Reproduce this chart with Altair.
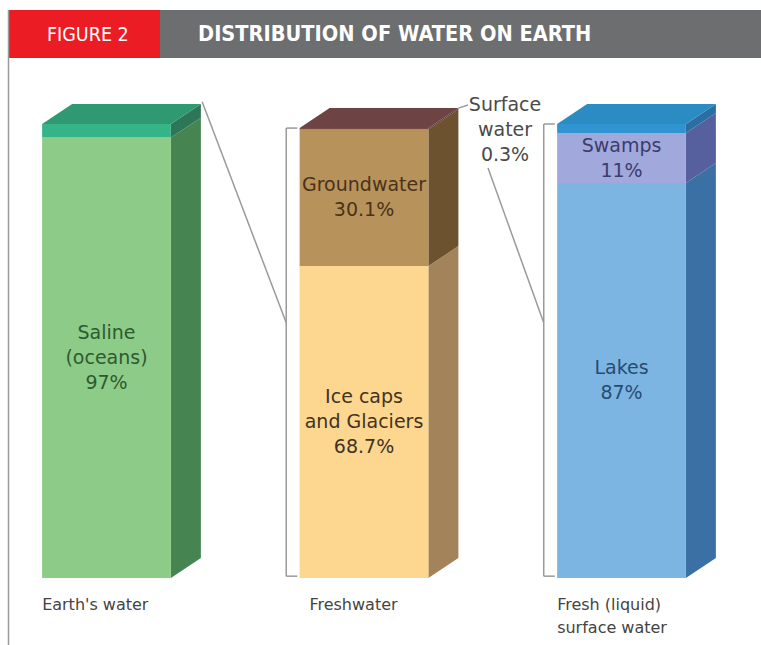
import altair as alt
import pandas as pd

# ---------------- data ----------------
categories = ["Earth's water", "Freshwater", "Fresh (liquid)\nsurface water"]
seg_bar = [0, 0, 1, 1, 1, 2, 2, 2]
seg_labels = ["Saline\n(oceans)\n97%", "", "Ice caps\nand Glaciers\n68.7%", "Groundwater\n30.1%", "",
              "Lakes\n87%", "Swamps\n11%", ""]
seg_values = [97, 3, 68.7, 30.1, 0.3, 87, 11, 2]
front_colors = ["#8dcb88", "#35b487", "#fdd690", "#b8925b", "#7a4a44", "#7db5e2", "#a1a8db", "#2f94cf"]
side_colors = ["#468552", "#2d7758", "#a2835a", "#6d522f", "#5a3a36", "#3a70a4", "#56609f", "#2a6ea3"]
text_colors = ["#2f5a2f", "#2f5a2f", "#3f3322", "#4a321a", "#4a321a", "#284b73", "#3c3c6e", "#284b73"]
top_colors = ["#2f9a72", "#6e4343", "#2b8cc4"]
surface_label = "Surface\nwater\n0.3%"

# ---------------- layout (data units: x = bar slot, y = percent) ----------------
HALF_W = 0.25
DX = 0.1165
DY = 4.4
BR = 0.052        # bracket offset
TICK = 0.043
PX_PER_PCT = 4.54
LINE_H = 25
LINE_PCT = LINE_H / PX_PER_PCT
cat_offsets = [0.0, 0.038, 0.0]


def first_line_y(center, text):
    n = text.count("\n") + 1
    return center + (n - 1) / 2 * LINE_PCT


front_rows, side_rows, text_rows = [], [], []
cum = {0: 0.0, 1: 0.0, 2: 0.0}
for i, (b, v) in enumerate(zip(seg_bar, seg_values)):
    y0 = cum[b]
    y1 = y0 + v
    cum[b] = y1
    front_rows.append(dict(x=b - HALF_W, x2=b + HALF_W, y=y0, y2=y1, c=front_colors[i]))
    side_rows.append(dict(seg=i, x=b + HALF_W, y=y0, y2=y1, c=side_colors[i]))
    side_rows.append(dict(seg=i, x=b + HALF_W + DX, y=y0 + DY, y2=y1 + DY, c=side_colors[i]))
    if seg_labels[i]:
        text_rows.append(dict(x=b, y=first_line_y((y0 + y1) / 2, seg_labels[i]),
                              t=seg_labels[i], c=text_colors[i]))

top_rows = []
for b in range(3):
    t = cum[b]
    top_rows.append(dict(bar=b, y=t, x=b - HALF_W, x2=b + HALF_W, c=top_colors[b]))
    top_rows.append(dict(bar=b, y=t + DY, x=b - HALF_W + DX, x2=b + HALF_W + DX, c=top_colors[b]))

front_df = pd.DataFrame(front_rows)
side_df = pd.DataFrame(side_rows)
top_df = pd.DataFrame(top_rows)
text_df = pd.DataFrame(text_rows)

# brackets and connector lines
line_rows = []
for b in (1, 2):
    xb = b - HALF_W - BR
    line_rows.append(dict(x=xb, y=0.4, x2=xb, y2=cum[b]))
    line_rows.append(dict(x=xb, y=0.4, x2=xb + TICK, y2=0.4))
    line_rows.append(dict(x=xb, y=cum[b], x2=xb + TICK, y2=cum[b]))
line_rows.append(dict(x=HALF_W + DX + 0.005, y=cum[0] + DY + 0.5, x2=1 - HALF_W - BR, y2=56.2))
line_rows.append(dict(x=1 + HALF_W + DX, y=cum[1] + DY, x2=1.404, y2=104.2))
line_rows.append(dict(x=1.4816, y=90.3, x2=2 - HALF_W - BR, y2=56.2))
line_df = pd.DataFrame(line_rows)

cat_df = pd.DataFrame(dict(x=[b - HALF_W + cat_offsets[b] for b in range(3)], y=[-4.2] * 3, t=categories))
surf_df = pd.DataFrame(dict(x=[1.5476], y=[first_line_y(98.7, surface_label)], t=[surface_label]))

xs = alt.Scale(domain=[-0.4136, 2.5417], nice=False, zero=False)
ys = alt.Scale(domain=[-14.76, 127.31], nice=False, zero=False)
X = lambda f: alt.X(f, type="quantitative", scale=xs, axis=None)
Y = lambda f: alt.Y(f, type="quantitative", scale=ys, axis=None, stack=None)

front = alt.Chart(front_df).mark_rect().encode(
    x=X("x"), x2="x2", y=Y("y"), y2="y2", color=alt.Color("c:N", scale=None))

side = alt.Chart(side_df).mark_area(orient="vertical").encode(
    x=X("x"), y=Y("y"), y2="y2", detail="seg:N", color=alt.Color("c:N", scale=None))

top = alt.Chart(top_df).mark_area(orient="horizontal").encode(
    y=Y("y"), x=alt.X("x", type="quantitative", scale=xs, axis=None, stack=None), x2="x2",
    detail="bar:N", color=alt.Color("c:N", scale=None))

lines = alt.Chart(line_df).mark_rule(color="#9a9a9a", strokeWidth=1.5).encode(
    x=X("x"), y=Y("y"), x2="x2", y2="y2")

seg_text = alt.Chart(text_df).mark_text(
    font="DejaVu Sans", fontSize=19, lineBreak="\n", lineHeight=LINE_H, baseline="middle", align="center"
).encode(x=X("x"), y=Y("y"), text="t:N", color=alt.Color("c:N", scale=None))

surf_text = alt.Chart(surf_df).mark_text(
    font="DejaVu Sans", fontSize=19, lineBreak="\n", lineHeight=LINE_H, baseline="middle", align="center",
    color="#4a4a4a").encode(x=X("x"), y=Y("y"), text="t:N")

cat_text = alt.Chart(cat_df).mark_text(
    font="DejaVu Sans", fontSize=16, lineBreak="\n", lineHeight=23, baseline="top", align="left",
    color="#444444").encode(x=X("x"), y=Y("y"), text="t:N")

# header decoration
hdr_df = pd.DataFrame(dict(k=["a"]))
red = alt.Chart(hdr_df).mark_rect(color="#ec1c24").encode(
    x=alt.value(9), x2=alt.value(160), y=alt.value(10), y2=alt.value(58))
gray = alt.Chart(hdr_df).mark_rect(color="#6d6e70").encode(
    x=alt.value(160), x2=alt.value(761), y=alt.value(10), y2=alt.value(58))
frame = alt.Chart(hdr_df).mark_rule(color="#9a9a9a", strokeWidth=1.5).encode(
    x=alt.value(8.5), x2=alt.value(8.5), y=alt.value(10), y2=alt.value(645))
fig_txt = alt.Chart(hdr_df).mark_text(
    text="FIGURE 2", font="DejaVu Sans Condensed, sans-serif", fontSize=19.5,
    color="white", align="left", baseline="middle").encode(x=alt.value(47), y=alt.value(35))
title_txt = alt.Chart(hdr_df).mark_text(
    text="DISTRIBUTION OF WATER ON EARTH", font="DejaVu Sans Condensed, sans-serif",
    fontSize=21.6, fontWeight="bold", color="white", align="left", baseline="middle").encode(
    x=alt.value(198), y=alt.value(35))

chart = alt.layer(
    red, gray, frame, fig_txt, title_txt,
    lines, side, top, front, seg_text, surf_text, cat_text
).properties(width=761, height=645, autosize=alt.AutoSizeParams(type="none"), padding=0,
             background="white").configure_view(stroke=None)

chart.save("out.html", embed_options={"renderer": "svg", "actions": False})
